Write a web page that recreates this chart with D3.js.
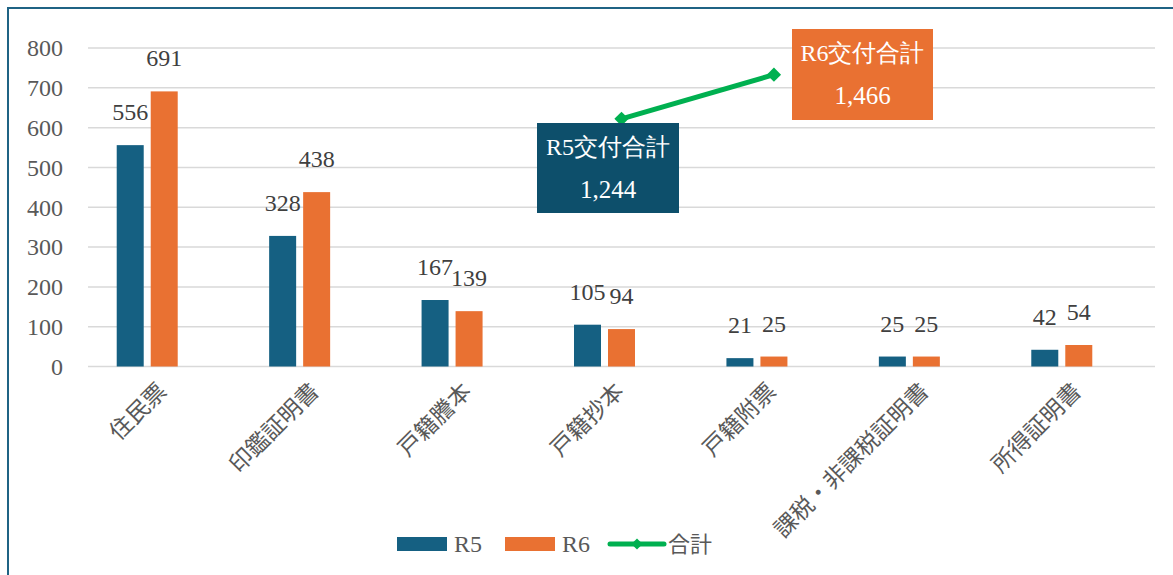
<!DOCTYPE html>
<html>
<head>
<meta charset="utf-8">
<script src="https://cdn.jsdelivr.net/npm/d3@7"></script>
<style>
  body { margin: 0; background: #fff; }
  svg { display: block; }
</style>
</head>
<body>
<div id="chart"></div>
<script>
// data
let categories = ['住民票', '印鑑証明書', '戸籍謄本', '戸籍抄本', '戸籍附票', '課税・非課税証明書', '所得証明書']
let r5 = [556, 328, 167, 105, 21, 25, 42]
let r6 = [691, 438, 139, 94, 25, 25, 54]
let totalCats = ['戸籍抄本', '戸籍附票']
let totals = [1244, 1466]
let totalLabels = ['R5交付合計', 'R6交付合計']
let yTicks = [0, 100, 200, 300, 400, 500, 600, 700, 800]

let W = 1173, H = 575
let numFont = '"Liberation Serif", "Times New Roman", serif'
let jpFont = '"Noto Sans CJK JP", "Noto Sans", sans-serif'
let c5 = '#156082', c6 = '#e97132', cLine = '#00b050', txt = '#595959'

let svg = d3.select('#chart').append('svg')
    .attr('width', W)
    .attr('height', H)

// frame (cropped on right/bottom)
svg.append('path')
    .attr('d', `M8,${H + 5} L8,8 L${W + 5},8`)
    .attr('fill', 'none')
    .attr('stroke', '#1f6384')
    .attr('stroke-width', 2)

let y = d3.scaleLinear().domain([0, 800]).range([366.5, 48])
let y2 = d3.scaleLinear().domain([0, 1600]).range([366.5, 48])

// category axis used by bars and by the total line
let x = d3.scaleBand().domain(categories).range([71, 1138])
let xLine = d3.scaleBand().domain(categories).range([88, 1155])
let barW = 27, gap = 7

// gridlines
svg.append('g')
    .selectAll('line')
    .data(yTicks)
    .join('line')
    .attr('x1', 88).attr('x2', 1155)
    .attr('y1', d => y(d)).attr('y2', d => y(d))
    .attr('stroke', '#d9d9d9')
    .attr('stroke-width', 1.5)

// y labels
svg.append('g')
    .selectAll('text')
    .data(yTicks)
    .join('text')
    .attr('x', 63)
    .attr('y', d => y(d))
    .attr('dy', '0.35em')
    .attr('text-anchor', 'end')
    .style('font-family', numFont)
    .style('font-size', '24px')
    .attr('fill', txt)
    .text(d => d)

// bars
let series = [
    { key: 'R5', values: r5, color: c5, off: -gap / 2 - barW },
    { key: 'R6', values: r6, color: c6, off: gap / 2 }
]
series.forEach(s => {
    let g = svg.append('g')
    g.selectAll('rect')
        .data(categories)
        .join('rect')
        .attr('x', d => x(d) + x.bandwidth() / 2 + s.off)
        .attr('width', barW)
        .attr('y', (d, i) => y(s.values[i]))
        .attr('height', (d, i) => y(0) - y(s.values[i]))
        .attr('fill', s.color)
    g.selectAll('text')
        .data(categories)
        .join('text')
        .attr('x', d => x(d) + x.bandwidth() / 2 + s.off + barW / 2)
        .attr('y', (d, i) => y(s.values[i]) - 25)
        .attr('text-anchor', 'middle')
        .style('font-family', numFont)
        .style('font-size', '24px')
        .attr('fill', '#404040')
        .text((d, i) => s.values[i])
})

// category labels
svg.append('g')
    .selectAll('text')
    .data(categories)
    .join('text')
    .attr('transform', d => `translate(${x(d) + x.bandwidth() / 2 + 15},${387}) rotate(-45)`)
    .attr('text-anchor', 'end')
    .attr('dy', '0.35em')
    .style('font-family', jpFont)
    .style('font-size', '23px')
    .attr('fill', txt)
    .text(d => d)

// total line
let pts = totalCats.map((c, i) => [xLine(c) + xLine.bandwidth() / 2, y2(totals[i])])
svg.append('path')
    .attr('d', d3.line()(pts))
    .attr('fill', 'none')
    .attr('stroke', cLine)
    .attr('stroke-width', 5)
svg.append('g')
    .selectAll('path')
    .data(pts)
    .join('path')
    .attr('transform', d => `translate(${d[0]},${d[1]})`)
    .attr('d', d3.symbol(d3.symbolDiamond2, 130))
    .attr('fill', cLine)

// total callouts
let boxes = [
    { x: 537, y: 123, w: 142, h: 90, color: '#0d4f6b' },
    { x: 792, y: 29, w: 141, h: 91, color: c6 }
]
boxes.forEach((b, i) => {
    let g = svg.append('g')
    g.append('rect')
        .attr('x', b.x).attr('y', b.y)
        .attr('width', b.w).attr('height', b.h)
        .attr('fill', b.color)
    g.append('text')
        .attr('x', b.x + b.w / 2)
        .attr('y', b.y + 24)
        .attr('dy', '0.35em')
        .attr('text-anchor', 'middle')
        .style('font-family', numFont)
        .style('font-size', '24px')
        .attr('fill', '#fff')
        .text(totalLabels[i])
    g.append('text')
        .attr('x', b.x + b.w / 2)
        .attr('y', b.y + 66)
        .attr('dy', '0.35em')
        .attr('text-anchor', 'middle')
        .style('font-family', numFont)
        .style('font-size', '25px')
        .attr('fill', '#fff')
        .text(d3.format(',')(totals[i]))
})

// legend
let lg = svg.append('g').attr('transform', 'translate(0,544)')
lg.append('rect').attr('x', 397).attr('y', -7).attr('width', 50).attr('height', 14).attr('fill', c5)
lg.append('text').attr('x', 454).attr('dy', '0.35em').text('R5')
lg.append('rect').attr('x', 505).attr('y', -7).attr('width', 50).attr('height', 14).attr('fill', c6)
lg.append('text').attr('x', 562).attr('dy', '0.35em').text('R6')
lg.append('line').attr('x1', 610).attr('x2', 664).attr('stroke', cLine).attr('stroke-width', 5).attr('stroke-linecap', 'round')
lg.append('path').attr('transform', 'translate(637,0)').attr('d', d3.symbol(d3.symbolDiamond2, 80)).attr('fill', cLine)
lg.append('text').attr('x', 668).attr('dy', '0.35em').style('font-family', jpFont).style('font-size', '22px').text('合計')
lg.selectAll('text')
    .attr('fill', txt)
    .filter(function () { return !this.style.fontFamily })
    .style('font-family', numFont)
    .style('font-size', '24px')
</script>
</body>
</html>
